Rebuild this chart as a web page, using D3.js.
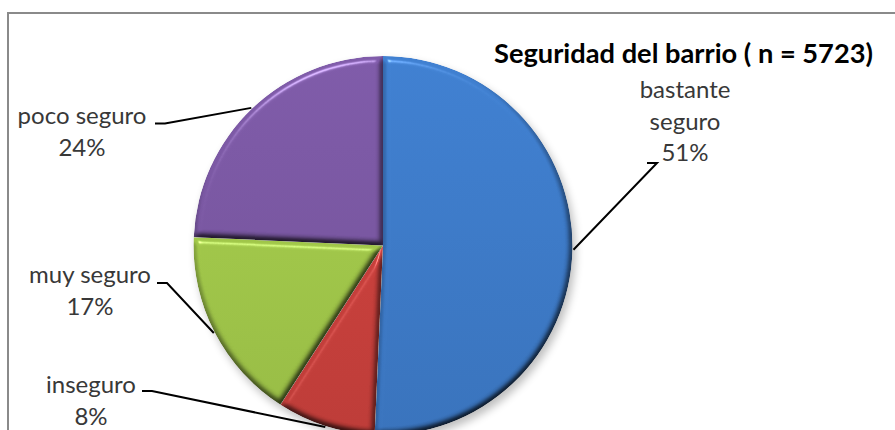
<!DOCTYPE html>
<html>
<head>
<meta charset="utf-8">
<script src="https://cdn.jsdelivr.net/npm/d3@7"></script>
<style>
  html, body { margin: 0; padding: 0; background: #ffffff; }
  svg { display: block; }
</style>
</head>
<body>
<svg id="chart" width="895" height="430"></svg>
<script>
// ---- data ----
const categories = ["bastante seguro", "inseguro", "muy seguro", "poco seguro"];
const values = [50.7, 8.4, 16.6, 24.3];
const labelLines = [["bastante", "seguro"], ["inseguro"], ["muy seguro"], ["poco seguro"]];
const titleText = "Seguridad del barrio ( n = 5723)";

// ---- styles / layout ----
const colors = ["#3D7BC8", "#C9403C", "#A1C74A", "#7A57A2"];
const cx = 383, cy = 245.5, r = 189.5;
// label layout: text centre x, first baseline y, leader start x/y, elbow direction
const labelLayout = [
  { x: 685, y: 98,  lx: 647, ly: 163, dir: 1 },
  { x: 91,  y: 393, lx: 142, ly: 391, dir: 1 },
  { x: 90,  y: 283, lx: 157, ly: 283, dir: 1 },
  { x: 82,  y: 124, lx: 155, ly: 123.5, dir: 1 }
];
const lineH = 31.5;
const font = "Lato, 'Open Sans', 'Noto Sans', sans-serif";

const svg = d3.select("#chart");
const defs = svg.append("defs");

// bevel filter
const f = defs.append("filter").attr("id", "bevel")
  .attr("color-interpolation-filters", "sRGB")
  .attr("x", "-5%").attr("y", "-5%").attr("width", "110%").attr("height", "110%");
f.append("feGaussianBlur").attr("in", "SourceAlpha").attr("stdDeviation", 3).attr("result", "blur");
f.append("feDiffuseLighting").attr("in", "blur").attr("surfaceScale", 4.5)
  .attr("diffuseConstant", 1 / Math.sin(60 * Math.PI / 180)).attr("lighting-color", "#ffffff").attr("result", "diff")
  .append("feDistantLight").attr("azimuth", 250).attr("elevation", 60);
f.append("feComposite").attr("in", "SourceGraphic").attr("in2", "diff")
  .attr("operator", "arithmetic").attr("k1", 1).attr("k2", 0).attr("k3", 0).attr("k4", 0).attr("result", "lit");
f.append("feSpecularLighting").attr("in", "blur").attr("surfaceScale", 4.5)
  .attr("specularConstant", 0.75).attr("specularExponent", 60).attr("lighting-color", "#ffffff").attr("result", "spec")
  .append("feDistantLight").attr("azimuth", 250).attr("elevation", 45);
f.append("feComposite").attr("in", "spec").attr("in2", "SourceAlpha").attr("operator", "in").attr("result", "specIn");
f.append("feComposite").attr("in", "lit").attr("in2", "specIn")
  .attr("operator", "arithmetic").attr("k1", 0).attr("k2", 1).attr("k3", 0.5).attr("k4", 0).attr("result", "sum");
f.append("feComposite").attr("in", "sum").attr("in2", "SourceAlpha").attr("operator", "in");

// shadow filter
const sf = defs.append("filter").attr("id", "shadow")
  .attr("x", "-20%").attr("y", "-20%").attr("width", "140%").attr("height", "140%");
sf.append("feGaussianBlur").attr("stdDeviation", 4);

// vertical gradients per colour (in slice user space, centred on pie)
colors.forEach((c, i) => {
  const g = defs.append("linearGradient").attr("id", "grad" + i)
    .attr("gradientUnits", "userSpaceOnUse")
    .attr("x1", 0).attr("y1", -r).attr("x2", 0).attr("y2", r);
  g.append("stop").attr("offset", "0%").attr("stop-color", d3.color(c).brighter(0.12));
  g.append("stop").attr("offset", "100%").attr("stop-color", d3.color(c).darker(0.18));
});

// frame
svg.append("path")
  .attr("d", `M8,440 L8,13 L900,13`)
  .attr("fill", "none").attr("stroke", "#8a8a8a").attr("stroke-width", 2);

// pie
const pie = d3.pie().sort(null).value(d => d)(values);
const arc = d3.arc().innerRadius(0).outerRadius(r);

svg.append("circle").attr("cx", cx + 3).attr("cy", cy + 5).attr("r", r)
  .attr("fill", "#000").attr("opacity", 0.25).attr("filter", "url(#shadow)");

svg.append("g").selectAll("path.slice").data(pie).join("path")
  .attr("class", "slice")
  .attr("d", arc)
  .attr("transform", `translate(${cx},${cy})`)
  .attr("fill", (d, i) => `url(#grad${i})`)
  .attr("filter", "url(#bevel)");

// leader lines
const pct = d3.format(".0%");
pie.forEach((d, i) => {
  const L = labelLayout[i];
  const a = (d.startAngle + d.endAngle) / 2;
  const ex = cx + (r + 1) * Math.sin(a);
  const ey = cy - (r + 1) * Math.cos(a);
  const ox = L.lx + L.dir * 10;
  svg.append("polyline")
    .attr("points", `${L.lx},${L.ly} ${ox},${L.ly} ${ex},${ey}`)
    .attr("fill", "none").attr("stroke", "#000").attr("stroke-width", 2);
});

// labels
pie.forEach((d, i) => {
  const L = labelLayout[i];
  const lines = labelLines[i].concat([pct(values[i] / 100)]);
  const t = svg.append("text")
    .attr("x", L.x).attr("y", L.y)
    .attr("text-anchor", "middle")
    .attr("font-family", font).attr("font-size", 24)
    .attr("fill", "#383838");
  lines.forEach((s, k) => {
    t.append("tspan").attr("x", L.x).attr("y", L.y + k * lineH).text(s);
  });
});

// title
svg.append("text")
  .attr("x", 494).attr("y", 63)
  .attr("font-family", font).attr("font-size", 27).attr("font-weight", "bold")
  .attr("fill", "#000")
  .attr("textLength", 379).attr("lengthAdjust", "spacingAndGlyphs")
  .text(titleText);
</script>
</body>
</html>
